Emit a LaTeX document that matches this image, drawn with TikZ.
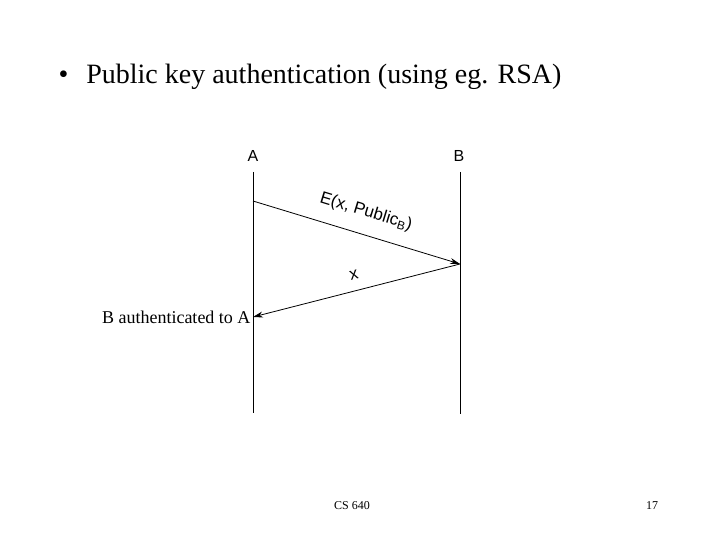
\documentclass[tikz,border=0pt]{standalone}
\usepackage{fontspec}
\setmainfont{Liberation Serif}
\newfontfamily\helv{Liberation Sans}
\usetikzlibrary{arrows.meta}
\begin{document}
\begin{tikzpicture}[x=1pt,y=-1pt,
  life/.style={line width=0.8pt},
  msg/.style={line width=0.8pt,-{Stealth[length=10pt,width=6pt]}},
  actor/.style={font=\helv\fontsize{16}{19}\selectfont},
  lbl/.style={font=\helv\fontsize{17}{20}\selectfont,inner sep=0pt}]
\useasboundingbox (0,0) rectangle (720,540);
\node[anchor=west,font=\fontsize{28}{32}\selectfont] (title) at (55,77) {\textbullet\hspace{18pt}Public key authentication (using eg. RSA)};
\node[actor] (A) at (253,156) {A};
\node[actor] (B) at (459,156) {B};
\coordinate (Atop) at (253,172);
\coordinate (Abot) at (253,413);
\coordinate (Btop) at (460,172);
\coordinate (Bbot) at (460,414);
\draw[life] (Atop) -- (Abot);
\draw[life] (Btop) -- (Bbot);
\coordinate (m1s) at (253,201);
\coordinate (m1e) at (460,264);
\coordinate (m2e) at (253,317);
\draw[msg] (m1s) -- (m1e);
\draw[msg] (m1e) -- (m2e);
\node[lbl,rotate=-17] (l1) at (366,212) {E(x, Public\textsubscript{B})};
\node[lbl,rotate=14] (l2) at (354,275) {x};
\node[anchor=east,font=\fontsize{18}{21}\selectfont] (auth) at (254,317) {B authenticated to A};
\node[font=\fontsize{12}{14}\selectfont] (cs) at (352,506) {CS 640};
\node[font=\fontsize{12}{14}\selectfont] (pg) at (652,506) {17};
\end{tikzpicture}
\end{document}
